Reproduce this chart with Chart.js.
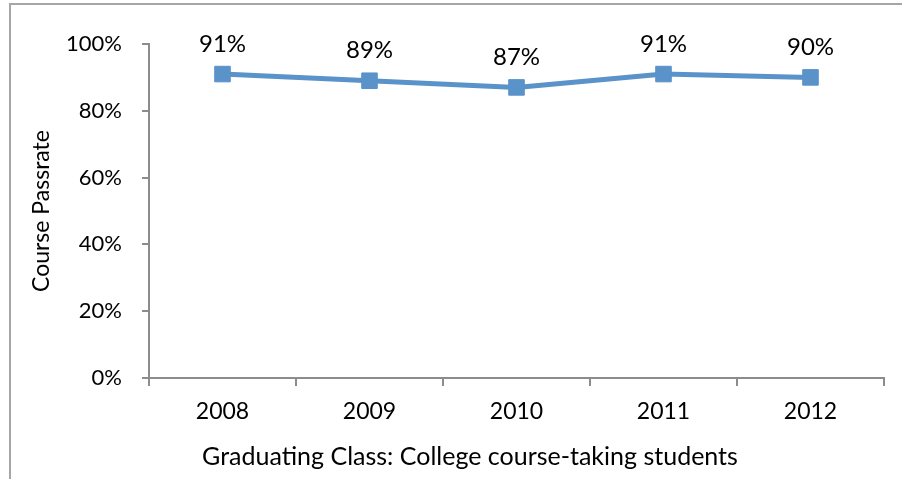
<!DOCTYPE html>
<html>
<head>
<meta charset="utf-8">
<script src="https://cdn.jsdelivr.net/npm/chart.js@4"></script>
<style>
  body { margin: 0; background: #fff; }
  #wrap { position: relative; width: 902px; height: 479px; }
  #frame { position: absolute; left: 9px; top: 3px; right: 0; bottom: 0;
           border-top: 2px solid #a6a6a6; border-left: 2px solid #a6a6a6; }
  canvas { position: absolute; left: 0; top: 0; }
</style>
</head>
<body>
<div id="wrap">
  <div id="frame"></div>
  <canvas id="passChart" width="902" height="479"></canvas>
</div>
<script>
const years = ['2008', '2009', '2010', '2011', '2012'];
const passRate = [91, 89, 87, 91, 90];
const yTicks = [0, 20, 40, 60, 80, 100];
const xTitle = 'Graduating Class: College course-taking students';
const yTitle = 'Course Passrate';

const FONT = 'Lato, "Open Sans", sans-serif';
const blue = '#5a92ca';
const axisGray = '#8c8c8c';

// % labels above each point + x title (Excel centres it on the whole chart, not the plot)
const extraText = {
    id: 'extraText',
    afterDatasetsDraw(chart) {
        const ctx = chart.ctx;
        const meta = chart.getDatasetMeta(0);
        ctx.save();
        ctx.fillStyle = '#000';
        ctx.textAlign = 'center';
        ctx.textBaseline = 'middle';
        ctx.font = '24px ' + FONT;
        meta.data.forEach((pt, i) => {
            ctx.fillText(passRate[i] + '%', pt.x, pt.y - 30);
        });
        ctx.font = '25px ' + FONT;
        ctx.fillText(xTitle, 470, 457);
        ctx.restore();
    }
};

let passChart = new Chart(document.getElementById('passChart').getContext('2d'), {
    type: 'line',
    data: {
        labels: years,
        datasets: [{
            data: passRate,
            borderColor: blue,
            backgroundColor: blue,
            borderWidth: 5,
            pointStyle: 'rect',
            pointRadius: 11,
            pointBorderWidth: 1,
            tension: 0
        }]
    },
    options: {
        responsive: false,
        animation: false,
        layout: { padding: { top: 44, right: 18, left: 0, bottom: 0 } },
        plugins: { legend: { display: false }, tooltip: { enabled: false } },
        scales: {
            x: {
                offset: true,
                afterFit: (s) => { s.height = 101; },
                grid: { offset: true, drawOnChartArea: false, tickLength: 8, color: axisGray, lineWidth: 2 },
                border: { color: axisGray, width: 2 },
                ticks: { padding: 12, color: '#000', font: { family: FONT, size: 23 } }
            },
            y: {
                min: 0, max: 100,
                afterFit: (s) => { s.width = 149; },
                afterBuildTicks: (s) => { s.ticks = yTicks.map(v => ({ value: v })); },
                grid: { drawOnChartArea: false, tickLength: 7, color: axisGray, lineWidth: 2 },
                border: { color: axisGray, width: 2 },
                ticks: { padding: 20, color: '#000', font: { family: FONT, size: 22 },
                         callback: (v) => v + '%' },
                title: { display: true, text: yTitle,
                         color: '#000', font: { family: FONT, size: 23 }, padding: { top: 28, bottom: 0 } }
            }
        }
    },
    plugins: [extraText]
});
</script>
</body>
</html>
